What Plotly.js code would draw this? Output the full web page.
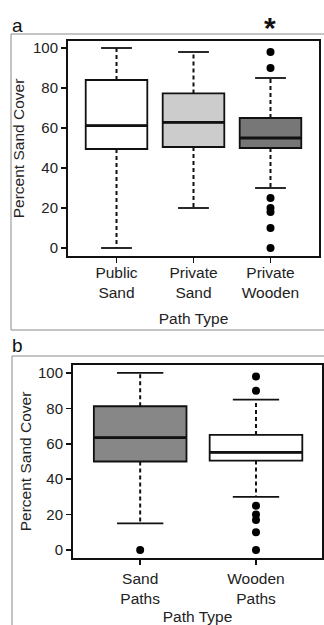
<!DOCTYPE html>
<html><head><meta charset="utf-8">
<script src="https://cdn.plot.ly/plotly-3.0.1.min.js"></script>
<style>html,body{margin:0;padding:0;background:#fff}#chart{width:324px;height:625px}</style>
</head><body><div id="chart"></div>
<script>
// ---- Data: panel a ----
const categoriesA = ['Public<br>Sand', 'Private<br>Sand', 'Private<br>Wooden'];
const q1A = [49.5, 50.5, 50];
const medianA = [61.2, 62.8, 55];
const q3A = [84, 77.3, 65];
const lowerWhiskerA = [0, 20, 30];
const upperWhiskerA = [100, 98, 85];
const outliersA = [[], [], [98, 90, 25, 20, 18, 10, 0]];
// ---- Data: panel b ----
const categoriesB = ['Sand<br>Paths', 'Wooden<br>Paths'];
const q1B = [50, 50.5];
const medianB = [63.5, 55.2];
const q3B = [81.2, 65];
const lowerWhiskerB = [15, 30];
const upperWhiskerB = [100, 85];
const outliersB = [[0], [98, 90, 25, 20, 17, 10, 0]];
const yTicks = [0, 20, 40, 60, 80, 100];

// ---- Style ----
const fillA = ['#ffffff', '#cccccc', '#777777'];
const fillB = ['#878787', '#ffffff'];
const boxWidth = 0.8, capWidth = 0.4;
const FONT = 'Liberation Sans, Arial, sans-serif';

const traces = [];
function addPanel(cats, q1, med, q3, lo, hi, outs, fills, xa, ya) {
  cats.forEach((c, i) => {
    traces.push({type: 'box', x: [i], q1: [q1[i]], median: [med[i]], q3: [q3[i]],
      lowerfence: [q1[i]], upperfence: [q3[i]], width: boxWidth, whiskerwidth: 0,
      fillcolor: fills[i], line: {color: '#111', width: 1.8}, xaxis: xa, yaxis: ya,
      showlegend: false, hoverinfo: 'skip'});
    traces.push({type: 'scatter', mode: 'lines', x: [i - boxWidth / 2, i + boxWidth / 2], y: [med[i], med[i]],
      line: {color: '#111', width: 2.8}, xaxis: xa, yaxis: ya, showlegend: false, hoverinfo: 'skip'});
    traces.push({type: 'scatter', mode: 'lines', x: [i, i, null, i, i], y: [q3[i], hi[i], null, q1[i], lo[i]],
      line: {color: '#111', width: 2, dash: '4px,3px'}, xaxis: xa, yaxis: ya, showlegend: false, hoverinfo: 'skip'});
    traces.push({type: 'scatter', mode: 'lines',
      x: [i - capWidth / 2, i + capWidth / 2, null, i - capWidth / 2, i + capWidth / 2],
      y: [hi[i], hi[i], null, lo[i], lo[i]],
      line: {color: '#111', width: 1.8}, xaxis: xa, yaxis: ya, showlegend: false, hoverinfo: 'skip'});
    if (outs[i].length) {
      traces.push({type: 'scatter', mode: 'markers', x: outs[i].map(() => i), y: outs[i],
        marker: {color: '#000', size: 8}, xaxis: xa, yaxis: ya, showlegend: false, hoverinfo: 'skip'});
    }
  });
}
addPanel(categoriesA, q1A, medianA, q3A, lowerWhiskerA, upperWhiskerA, outliersA, fillA, 'x', 'y');
addPanel(categoriesB, q1B, medianB, q3B, lowerWhiskerB, upperWhiskerB, outliersB, fillB, 'x2', 'y2');

const W = 324, H = 625;
const axCommon = {showline: true, mirror: true, linecolor: '#111', linewidth: 2, ticks: 'outside',
  ticklen: 5, tickwidth: 1.5, tickcolor: '#111', showgrid: false, zeroline: false,
  tickfont: {family: FONT, size: 15, color: '#222'}};
const xTickFont = {family: FONT, size: 15.5, color: '#222'};
const titleFont = {family: FONT, size: 15.5, color: '#222'};

const layout = {
  width: W, height: H, margin: {l: 0, r: 0, t: 0, b: 0}, paper_bgcolor: '#fff', plot_bgcolor: '#fff',
  showlegend: false,
  xaxis: Object.assign({}, axCommon, {domain: [68 / W, 319 / W], range: [-0.63, 2.63],
    tickvals: categoriesA.map((c, i) => i), ticktext: categoriesA, anchor: 'y', tickfont: xTickFont,
    ticklabelstandoff: -4,
    title: {text: 'Path Type', font: titleFont, standoff: 13}}),
  yaxis: Object.assign({}, axCommon, {domain: [1 - 256 / H, 1 - 41 / H], range: [-4, 103.5],
    tickvals: yTicks, anchor: 'x',
    title: {text: 'Percent Sand Cover', font: titleFont, standoff: 5}}),
  xaxis2: Object.assign({}, axCommon, {domain: [73 / W, 322 / W], range: [-0.58, 1.57],
    tickvals: categoriesB.map((c, i) => i), ticktext: categoriesB, anchor: 'y2', tickfont: xTickFont,
    title: {text: 'Path Type', font: titleFont, standoff: 10}}),
  yaxis2: Object.assign({}, axCommon, {domain: [1 - 558 / H, 1 - 365 / H], range: [-4.5, 104.5],
    tickvals: yTicks, anchor: 'x2',
    title: {text: 'Percent Sand Cover', font: titleFont, standoff: 3}}),
  shapes: [
    {type: 'path', xref: 'paper', yref: 'paper',
      path: `M ${W} ${1 - 34 / H} L ${11 / W} ${1 - 34 / H} L ${11 / W} ${1 - 330 / H} L ${W} ${1 - 330 / H}`,
      line: {color: '#8a8a8a', width: 1}},
    {type: 'path', xref: 'paper', yref: 'paper',
      path: `M ${W} ${1 - 356 / H} L ${12 / W} ${1 - 356 / H} L ${12 / W} 0`,
      line: {color: '#8a8a8a', width: 1}}
  ],
  annotations: [
    {text: 'a', xref: 'paper', yref: 'paper', x: 10 / W, y: 1 - 38 / H, xanchor: 'left', yanchor: 'bottom',
      showarrow: false, font: {family: FONT, size: 19, color: '#111'}},
    {text: 'b', xref: 'paper', yref: 'paper', x: 10 / W, y: 1 - 358 / H, xanchor: 'left', yanchor: 'bottom',
      showarrow: false, font: {family: FONT, size: 19, color: '#111'}},
    {text: '<b>*</b>', xref: 'x', yref: 'paper', x: 2, y: 1 - 28 / H, xanchor: 'center', yanchor: 'middle',
      showarrow: false, font: {family: FONT, size: 30, color: '#111'}}
  ]
};
Plotly.newPlot('chart', traces, layout, {staticPlot: true});
</script></body></html>
